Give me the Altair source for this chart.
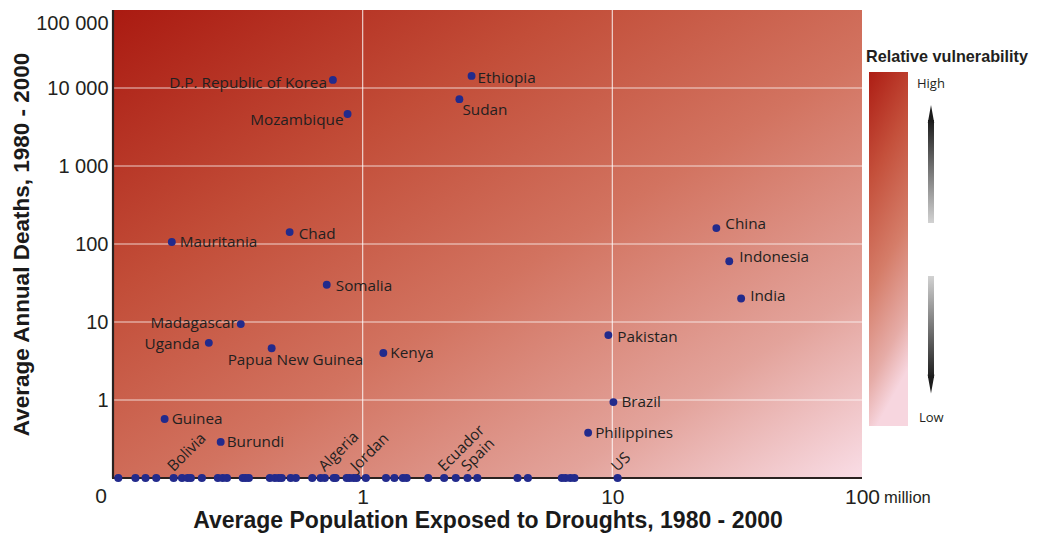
import altair as alt
import pandas as pd

# ---------------- data ----------------
names = ["D.P. Republic of Korea", "Ethiopia", "Sudan", "Mozambique", "Mauritania",
         "Chad", "Somalia", "Madagascar", "Uganda", "Papua New Guinea", "Kenya",
         "Guinea", "Burundi", "China", "Indonesia", "India", "Pakistan", "Brazil",
         "Philippines"]
pop = [0.76, 2.73, 2.44, 0.87, 0.172, 0.51, 0.718, 0.325, 0.242, 0.432, 1.21,
       0.161, 0.270, 26.1, 29.4, 32.8, 9.64, 10.1, 8.0]
deaths = [12700, 14300, 7200, 4650, 106, 142, 30, 9.4, 5.4, 4.6, 4.0,
          0.57, 0.29, 160, 60, 20, 6.8, 0.94, 0.38]

# countries with zero average deaths (drawn on the "0" floor of the log axis)
zero_pop = [0.105, 0.123, 0.135, 0.149, 0.175, 0.189, 0.199, 0.205, 0.227, 0.263,
            0.275, 0.286, 0.331, 0.340, 0.350, 0.425, 0.445, 0.461, 0.474, 0.515,
            0.540, 0.628, 0.679, 0.705, 0.766, 0.780, 0.863, 0.887, 0.920, 0.946,
            1.03, 1.24, 1.34, 1.45, 1.50, 1.83, 2.12, 2.36, 2.63, 2.88, 4.17, 4.59,
            6.28, 6.49, 6.79, 7.05, 10.5]
zero_names = ["Bolivia", "Algeria", "Jordan", "Ecuador", "Spain", "US"]
zero_name_pop = [0.175, 0.705, 0.946, 2.12, 2.63, 10.5]
ZERO_FLOOR = 0.1

x_ticks = [1, 10, 100]
y_ticks = [1, 10, 100, 1000, 10000, 100000]
grid_x = [1, 10]
grid_y = [1, 10, 100, 1000, 10000]

# ---------------- styles ----------------
label_style = {
    "D.P. Republic of Korea": ("right", -6, 3),
    "Ethiopia": ("left", 6, 2),
    "Sudan": ("left", 3, 11),
    "Mozambique": ("right", -4, 6),
    "Mauritania": ("left", 8, 0),
    "Chad": ("left", 9, 2),
    "Somalia": ("left", 9, 1),
    "Madagascar": ("right", -4, -1),
    "Uganda": ("right", -9, 1),
    "Papua New Guinea": ("left", -44, 12),
    "Kenya": ("left", 7, 0),
    "Guinea": ("left", 7, 0),
    "Burundi": ("left", 6, 0),
    "China": ("left", 9, -4),
    "Indonesia": ("left", 10, -4),
    "India": ("left", 9, -3),
    "Pakistan": ("left", 9, 2),
    "Brazil": ("left", 8, 0),
    "Philippines": ("left", 7, 0),
}

W, H = 749, 468
DOT = "#222a8c"
TXT = "#231f20"
LFONT = "Open Sans"
AFONT = "Liberation Sans"
LSIZE = 15.3

df = pd.DataFrame({"name": names, "pop": pop, "deaths": deaths})
zdf = pd.DataFrame({"pop": zero_pop, "deaths": [ZERO_FLOOR] * len(zero_pop)})
zldf = pd.DataFrame({"name": zero_names, "pop": zero_name_pop,
                     "deaths": [ZERO_FLOOR] * len(zero_names)})
one = pd.DataFrame({"a": [0]})

xs = alt.Scale(type="log", domain=[0.1, 100], nice=False)
ys = alt.Scale(type="log", domain=[0.1, 100000], nice=False)

xaxis = alt.Axis(values=x_ticks, labelExpr="format(datum.value, 'd')", grid=False,
                 ticks=False, domain=False, labelFlush=False, labelFont=AFONT,
                 labelFontSize=21, labelColor=TXT, labelPadding=8,
                 title="Average Population Exposed to Droughts, 1980 - 2000",
                 titleFont=AFONT, titleFontSize=23, titleFontWeight="bold",
                 titleColor="#1a1a1a", titlePadding=2)
yaxis = alt.Axis(values=y_ticks, labelExpr="replace(format(datum.value, ',.0f'), ',', ' ')",
                 grid=False, ticks=False, domain=False, labelFlush=True,
                 labelFlushOffset=-3, labelFont=AFONT, labelFontSize=20,
                 labelColor=TXT, labelPadding=5,
                 title="Average Annual Deaths, 1980 - 2000",
                 titleFont=AFONT, titleFontSize=22.5, titleFontWeight="bold",
                 titleColor="#1a1a1a", titlePadding=2)

X = alt.X("pop:Q", scale=xs, axis=xaxis)
Y = alt.Y("deaths:Q", scale=ys, axis=yaxis)

bg_grad = alt.LinearGradient(
    gradient="linear", x1=0, y1=0, x2=1, y2=1,
    stops=[alt.GradientStop(color="#aa1a11", offset=0),
           alt.GradientStop(color="#c24d38", offset=0.3),
           alt.GradientStop(color="#d27360", offset=0.55),
           alt.GradientStop(color="#e3a39b", offset=0.8),
           alt.GradientStop(color="#f9dde6", offset=1)])
background = alt.Chart(one).mark_rect(color=bg_grad).encode(
    x=alt.value(0), x2=alt.value(W), y=alt.value(0), y2=alt.value(H))

vgrid = alt.Chart(pd.DataFrame({"pop": grid_x})).mark_rule(
    color="white", opacity=0.75, strokeWidth=1.2).encode(x=X)
hgrid = alt.Chart(pd.DataFrame({"deaths": grid_y})).mark_rule(
    color="white", opacity=0.75, strokeWidth=1.2).encode(y=Y)

ydomain = alt.Chart(one).mark_rule(color="#2a2220", strokeWidth=2.2).encode(
    x=alt.value(0), y=alt.value(0), y2=alt.value(H))
xdomain = alt.Chart(one).mark_rule(color="#2a2220", strokeWidth=2.2).encode(
    x=alt.value(-1), x2=alt.value(W), y=alt.value(H))

points = alt.Chart(df).mark_circle(size=62, color=DOT, opacity=1).encode(x=X, y=Y)
zpoints = alt.Chart(zdf).mark_circle(size=66, color=DOT, opacity=1).encode(x=X, y=Y)

label_layers = []
groups = {}
for n in names:
    groups.setdefault(label_style[n], []).append(n)
for (align, dx, dy), members in groups.items():
    label_layers.append(
        alt.Chart(df).transform_filter(
            alt.FieldOneOfPredicate(field="name", oneOf=members)
        ).mark_text(align=align, baseline="middle", dx=dx, dy=dy, font=LFONT,
                    fontSize=LSIZE, color=TXT).encode(x=X, y=Y, text="name:N"))

zlabels = alt.Chart(zldf).mark_text(align="left", baseline="alphabetic", angle=315,
                                    dx=4, dy=-4, font=LFONT, fontSize=LSIZE,
                                    color=TXT).encode(x=X, y=Y, text="name:N")

zero_lbl = alt.Chart(one).mark_text(text="0", font=AFONT, fontSize=21, color=TXT,
                                    baseline="top", align="center").encode(
    x=alt.value(-12), y=alt.value(H + 8))
million = alt.Chart(one).mark_text(text="million", font=AFONT, fontSize=16.5, color=TXT,
                                   baseline="alphabetic", align="left").encode(
    x=alt.value(W + 22), y=alt.value(H + 25))

# ---------------- legend ----------------
leg_grad = alt.LinearGradient(
    gradient="linear", x1=0, y1=0, x2=0.2, y2=1,
    stops=[alt.GradientStop(color="#ad1d14", offset=0),
           alt.GradientStop(color="#c4503b", offset=0.3),
           alt.GradientStop(color="#d57d69", offset=0.6),
           alt.GradientStop(color="#e6aca7", offset=0.85),
           alt.GradientStop(color="#f7d6df", offset=1)])
leg_bar = alt.Chart(one).mark_rect(color=leg_grad).encode(
    x=alt.value(756), x2=alt.value(795), y=alt.value(62), y2=alt.value(416))
leg_title = alt.Chart(one).mark_text(text="Relative vulnerability", font=AFONT,
                                     fontSize=16.2, fontWeight="bold", color=TXT,
                                     align="left", baseline="middle").encode(
    x=alt.value(753), y=alt.value(47))
high = alt.Chart(one).mark_text(text="High", font=LFONT, fontSize=13, color=TXT,
                                align="left", baseline="middle").encode(
    x=alt.value(804), y=alt.value(74))
low = alt.Chart(one).mark_text(text="Low", font=LFONT, fontSize=13, color=TXT,
                               align="left", baseline="middle").encode(
    x=alt.value(806), y=alt.value(408))

up_grad = alt.LinearGradient(gradient="linear", x1=0, y1=0, x2=0, y2=1,
                             stops=[alt.GradientStop(color="#1c1c1c", offset=0),
                                    alt.GradientStop(color="#d2d2d2", offset=1)])
down_grad = alt.LinearGradient(gradient="linear", x1=0, y1=0, x2=0, y2=1,
                               stops=[alt.GradientStop(color="#d2d2d2", offset=0),
                                      alt.GradientStop(color="#1c1c1c", offset=1)])
up_shaft = alt.Chart(one).mark_rect(color=up_grad).encode(
    x=alt.value(815), x2=alt.value(821), y=alt.value(110), y2=alt.value(213))
down_shaft = alt.Chart(one).mark_rect(color=down_grad).encode(
    x=alt.value(815), x2=alt.value(821), y=alt.value(266), y2=alt.value(368))
up_head = alt.Chart(one).mark_point(shape="M0,-1L0.36,1L0,0.8L-0.36,1Z", filled=True,
                                    color="#1c1c1c", opacity=1, size=324, strokeWidth=0).encode(
    x=alt.value(818), y=alt.value(104))
down_head = alt.Chart(one).mark_point(shape="M0,1L0.36,-1L0,-0.8L-0.36,-1Z", filled=True,
                                      color="#1c1c1c", opacity=1, size=361, strokeWidth=0).encode(
    x=alt.value(818), y=alt.value(374))

chart = alt.layer(
    background, vgrid, hgrid, ydomain, xdomain, zpoints, points,
    *label_layers, zlabels, zero_lbl, million,
    leg_bar, leg_title, high, low, up_shaft, down_shaft, up_head, down_head
).properties(
    width=W, height=H,
    autosize=alt.AutoSizeParams(type="none"),
    padding={"left": 105, "top": 2, "right": 168, "bottom": 56},
).configure_view(stroke=None)

chart.save("out.html", embed_options={"renderer": "svg", "actions": False})
